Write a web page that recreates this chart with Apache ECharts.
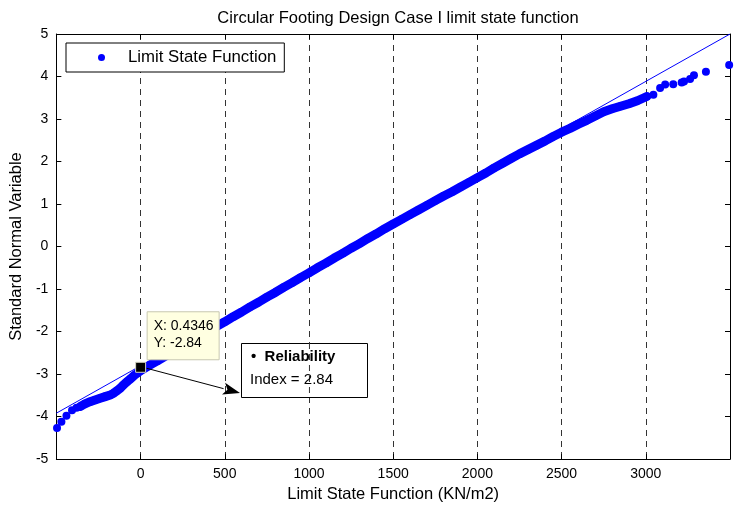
<!DOCTYPE html>
<html>
<head>
<meta charset="utf-8">
<script src="https://cdn.jsdelivr.net/npm/echarts@6/dist/echarts.min.js"></script>
<style>
html,body{margin:0;padding:0;background:#fff;}
#c{width:736px;height:508px;}
</style>
</head>
<body>
<div id="c"></div>
<script>
// ---- data ----
var lsfX = [-496,-470,-440,-407,-380,-357,-330,-300,-270,-240,-210,-180,-160,-143,-120,-103,-80,-60,-40,-20,
  0,50,100,150,200,250,300,350,400,450,500,550,600,650,700,750,800,850,900,950,
  1000,1050,1100,1150,1200,1250,1300,1350,1400,1450,1500,1550,1600,1650,1700,1750,1800,1850,1900,1950,
  2000,2050,2100,2150,2200,2250,2300,2350,2400,2450,2500,2550,2600,2650,2700,2750,2800,2850,2900,2950,
  3006,3045,3085,3115,3163,3213,3227,3263,3286,3357,3495];
var lsfY = [-4.27,-4.12,-3.98,-3.85,-3.79,-3.76,-3.70,-3.65,-3.61,-3.57,-3.53,-3.49,-3.45,-3.40,-3.33,-3.26,-3.18,-3.11,-3.04,-2.98,
  -2.92,-2.80,-2.69,-2.57,-2.46,-2.34,-2.23,-2.11,-2.00,-1.88,-1.77,-1.65,-1.54,-1.42,-1.31,-1.19,-1.08,-0.96,-0.85,-0.73,
  -0.62,-0.50,-0.39,-0.27,-0.16,-0.04,0.07,0.19,0.30,0.42,0.53,0.64,0.75,0.86,0.97,1.08,1.19,1.29,1.40,1.51,
  1.62,1.73,1.85,1.96,2.07,2.18,2.28,2.38,2.48,2.59,2.69,2.78,2.88,2.97,3.07,3.17,3.24,3.30,3.36,3.43,
  3.53,3.57,3.73,3.81,3.82,3.86,3.88,3.94,4.03,4.11,4.27];
var refX = [-500, 3500];
var refY = [-3.92, 5.0];
var tipX = [0.4346];
var tipY = [-2.84];
var xTicks = [0, 500, 1000, 1500, 2000, 2500, 3000];
var yTicks = [-5,-4,-3,-2,-1,0,1,2,3,4,5];
var titleText = 'Circular Footing Design Case I limit state function';
var xName = 'Limit State Function (KN/m2)';
var yName = 'Standard Normal Variable';
var seriesName = 'Limit State Function';
var noteLine1 = '\u2022  Reliability';
var noteLine2 = 'Index = 2.84';

// ---- build ----
var FONT = 'Liberation Sans';
var pts = lsfX.map(function(x,i){return [x, lsfY[i]];});
var band = pts.filter(function(p){return p[0] >= -360 && p[0] <= 3010;});
var refPts = refX.map(function(x,i){return [x, refY[i]];});
var tipPts = tipX.map(function(x,i){return [x, tipY[i]];});

var chart = echarts.init(document.getElementById('c'), null, {renderer:'canvas'});
var axisCommon = {
  axisLine:{show:true, onZero:false, lineStyle:{color:'#000', width:1}},
  axisTick:{show:true, inside:true, length:5, lineStyle:{color:'#000'}},
};
var option = {
  animation:false,
  backgroundColor:'#fff',
  title:{text:titleText, left:393, top:5, textAlign:'center',
    textStyle:{fontFamily:FONT, fontSize:16.5, fontWeight:'normal', color:'#000'}},
  grid:{left:56, right:6, top:34, bottom:47},
  legend:{
    data:[seriesName], left:66, top:43, orient:'vertical',
    backgroundColor:'#fff', borderColor:'#000', borderWidth:1, borderRadius:0,
    padding:[6,8,6,32], itemWidth:7, itemHeight:7,
    textStyle:{fontFamily:FONT, fontSize:16.8, color:'#000', padding:[0,0,0,18]}
  },
  xAxis:[
    Object.assign({type:'value', min:-500, max:3500, interval:500, position:'bottom',
      axisLabel:{show:true, margin:8, color:'#000', fontFamily:FONT, fontSize:14,
        formatter:function(v){return xTicks.indexOf(v) >= 0 ? String(v) : '';}},
      splitLine:{show:true, lineStyle:{color:'#333', width:1, type:[6,5]}},
      name:xName, nameLocation:'middle', nameGap:25,
      nameTextStyle:{fontFamily:FONT, fontSize:16.5, color:'#000'}}, axisCommon),
    Object.assign({type:'value', min:-500, max:3500, interval:500, position:'top',
      axisLabel:{show:false}, splitLine:{show:false}}, axisCommon)
  ],
  yAxis:[
    Object.assign({type:'value', min:-5, max:5, interval:1, position:'left',
      axisLabel:{show:true, margin:8, color:'#000', fontFamily:FONT, fontSize:14,
        formatter:function(v){return yTicks.indexOf(v) >= 0 ? String(v) : '';}},
      splitLine:{show:false},
      name:yName, nameLocation:'middle', nameGap:27, nameRotate:90,
      nameTextStyle:{fontFamily:FONT, fontSize:16.5, color:'#000'}}, axisCommon),
    Object.assign({type:'value', min:-5, max:5, interval:1, position:'right',
      axisLabel:{show:false}, splitLine:{show:false}}, axisCommon)
  ],
  series:[
    {name:'band', type:'line', data:band, showSymbol:false, silent:true, smooth:false,
      lineStyle:{color:'#0000ff', width:9, cap:'round', join:'round'}, z:2},
    {name:seriesName, type:'scatter', data:pts, symbol:'circle', symbolSize:8, clip:false,
      itemStyle:{color:'#0000ff', opacity:1}, z:3},
    {name:'ref', type:'line', data:refPts, showSymbol:false, silent:true,
      lineStyle:{color:'#0000ff', width:1}, z:4},
    {name:'tip', type:'scatter', data:tipPts, symbol:'rect', symbolSize:10,
      itemStyle:{color:'#000', borderColor:'#d8d8c8', borderWidth:1, opacity:1}, z:6}
  ]
};
chart.setOption(option);

var tp = chart.convertToPixel({gridIndex:0}, tipPts[0]);
var gx = chart.convertToPixel({xAxisIndex:0}, 1000);
var bx = 241, by = 343, bw = 126, bh = 54;
var ax0 = tp[0] + 6, ay0 = tp[1] + 1, ax1 = bx - 1, ay1 = by + bh - 4;
var ang = Math.atan2(ay1 - ay0, ax1 - ax0);
var hl = 17, hw = 6;
var hx = ax1 - hl*Math.cos(ang), hy = ay1 - hl*Math.sin(ang);
var head = [[ax1, ay1],
  [hx + hw*Math.sin(ang), hy - hw*Math.cos(ang)],
  [hx + 4*Math.cos(ang), hy + 4*Math.sin(ang)],
  [hx - hw*Math.sin(ang), hy + hw*Math.cos(ang)]];
chart.setOption({graphic:[
  {type:'rect', shape:{x:tp[0]+6.5, y:tp[1]-55.5, width:72, height:48}, z:20,
    style:{fill:'#ffffe1', stroke:'#c8c8b0', lineWidth:1}},
  {type:'text', x:tp[0]+13, y:tp[1]-50, z:21,
    style:{text:'X: ' + tipX[0] + '\nY: ' + tipY[0], fontFamily:FONT, fontSize:14, lineHeight:17, fill:'#000'}},
  {type:'rect', shape:{x:bx+0.5, y:by+0.5, width:bw, height:bh}, z:20,
    style:{fill:'#fff', stroke:'#000', lineWidth:1}},
  {type:'line', shape:{x1:gx+0.5, y1:by, x2:gx+0.5, y2:by+bh}, z:21,
    style:{stroke:'#333', lineWidth:1, lineDash:[6,5]}},
  {type:'text', x:bx+10, y:by+6, z:22,
    style:{text:noteLine1, fontFamily:FONT, fontSize:15, fontWeight:'bold', fill:'#000'}},
  {type:'text', x:bx+9, y:by+29, z:22,
    style:{text:noteLine2, fontFamily:FONT, fontSize:15, fill:'#000'}},
  {type:'line', shape:{x1:ax0, y1:ay0, x2:hx, y2:hy}, z:21, style:{stroke:'#000', lineWidth:1}},
  {type:'polygon', shape:{points:head}, z:21, style:{fill:'#000'}}
]});
</script>
</body>
</html>
